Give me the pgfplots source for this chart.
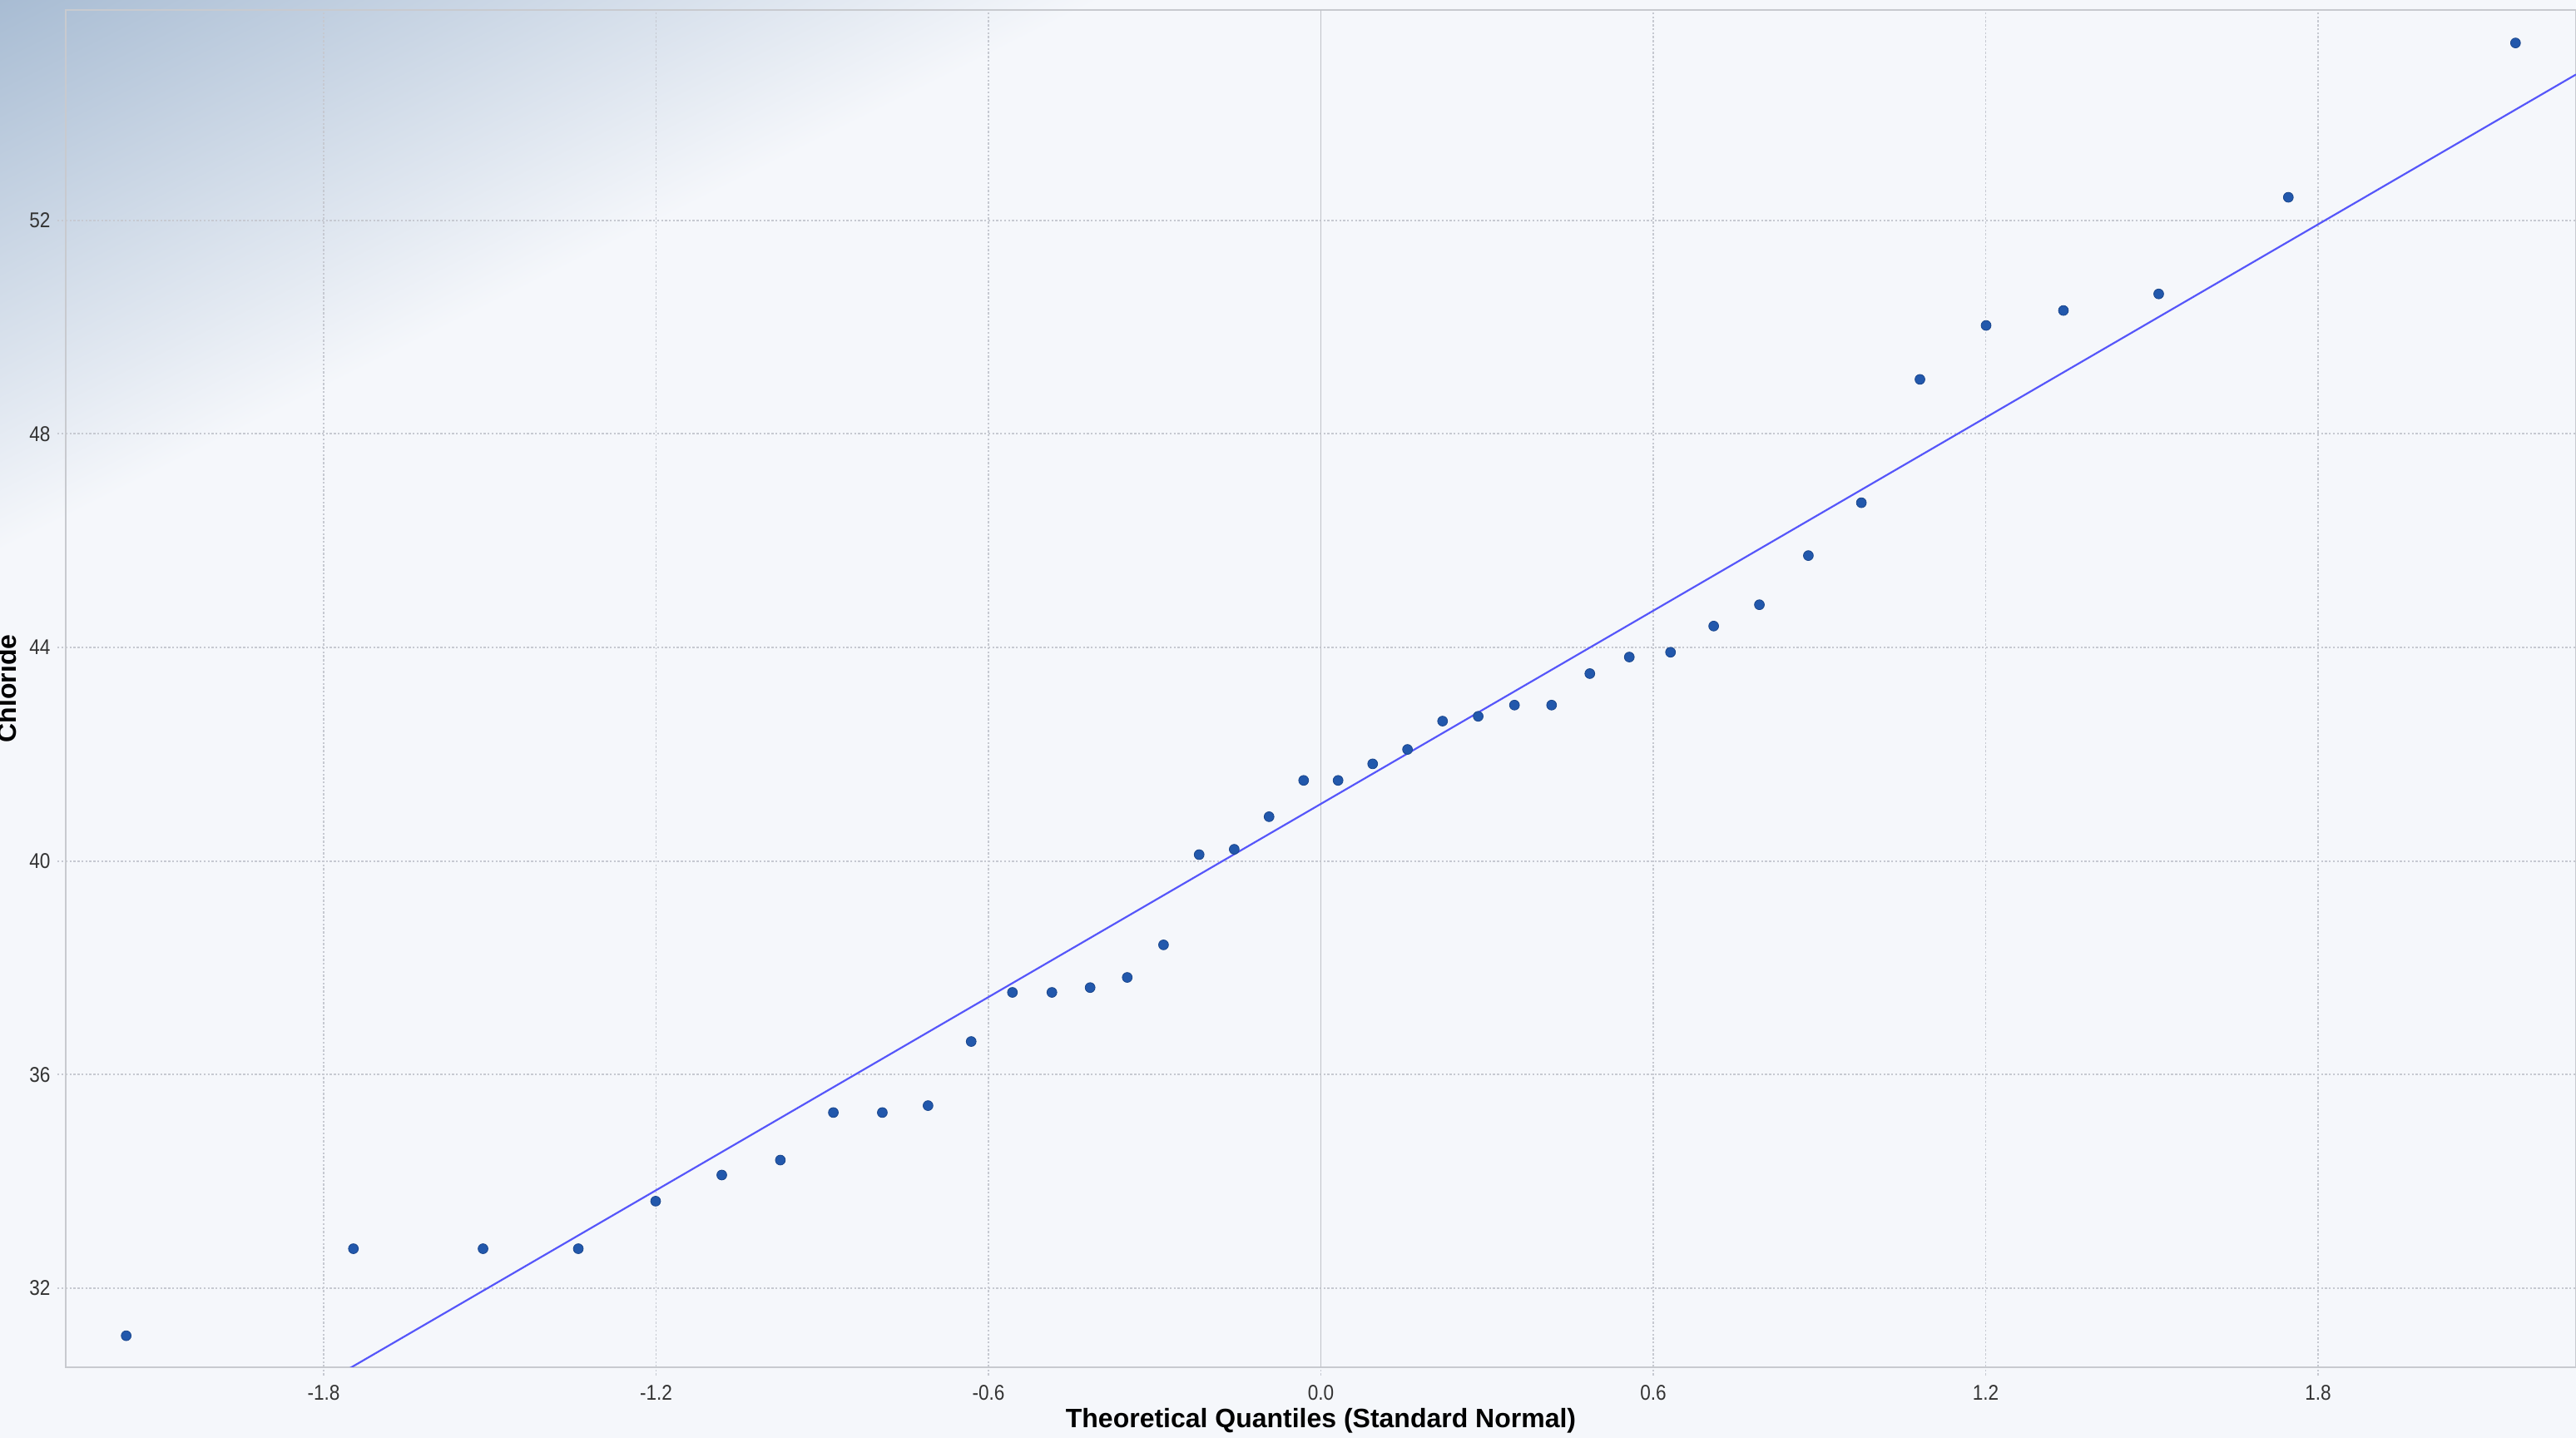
\documentclass[border=0pt]{standalone}
\usepackage{fontspec}
\setmainfont{Liberation Sans}
\newfontfamily\narrowfont{Liberation Sans}[FakeStretch=0.88]
\newfontfamily\labelfont{Liberation Sans}
\usepackage{pgfplots}
\pgfplotsset{compat=1.18}
\definecolor{bgcol}{HTML}{F5F7FB}
\definecolor{gradblue}{HTML}{A8BCD3}
\definecolor{gridcol}{HTML}{C6C9D1}
\definecolor{axcol}{HTML}{C8CACF}
\definecolor{zerocol}{HTML}{C0C2C8}
\definecolor{ptcol}{HTML}{2258AC}
\definecolor{ptedge}{HTML}{1A468C}
\definecolor{linecol}{HTML}{5656FA}
\definecolor{tickcol}{HTML}{333333}
\begin{document}
\begin{tikzpicture}
\fill[bgcol] (0,0) rectangle (784pt,437.5pt);
\begin{scope}
\clip (0,0) rectangle (784pt,437.5pt);
\begin{scope}[transform canvas={shift={(0pt,437.5pt)},rotate=-63.43}]
\shade[left color=gradblue, right color=bgcol] (0pt,-800pt) rectangle (150pt,800pt);
\end{scope}
\end{scope}
\begin{axis}[
  at={(20pt,21.5pt)}, anchor=south west,
  width=764pt, height=413pt, scale only axis,
  xmin=-2.2657, xmax=2.2657, ymin=30.523, ymax=55.94,
  xtick={-1.8,-1.2,-0.6,0,0.6,1.2,1.8},
  xticklabels={-1.8,-1.2,-0.6,0.0,0.6,1.2,1.8},
  ytick={32,36,40,44,48,52},
  xtick pos=bottom, ytick pos=left,
  tick align=outside,
  major tick length=2.5pt,
  every tick/.style={gridcol, dash pattern=on 0.6pt off 0.6pt, line width=0.45pt},
  grid=major,
  major grid style={gridcol, dash pattern=on 0.6pt off 0.6pt, line width=0.45pt},
  axis line style={axcol, line width=0.6pt},
  extra x ticks={0}, extra x tick labels={},
  extra x tick style={grid=major, major grid style={zerocol, solid, line width=0.5pt}},
  /pgf/number format/assume math mode=true,
  ticklabel style={font=\narrowfont\fontsize{6.5}{7}\selectfont, text=tickcol},
  xticklabel style={anchor=base, yshift=-7.5pt, inner sep=0pt},
  yticklabel style={anchor=east, xshift=-2pt, inner sep=0pt},
  xlabel={Theoretical Quantiles (Standard Normal)},
  ylabel={Chloride},
  every axis x label/.style={at={(axis description cs:0.5,0)}, anchor=base, yshift=-18.3pt, inner sep=0pt, font=\labelfont\bfseries\fontsize{8.1}{9}\selectfont},
  every axis y label/.style={at={(axis description cs:-0.0198,0.5)}, anchor=base, rotate=90, inner sep=0pt, font=\labelfont\bfseries\fontsize{8.1}{9}\selectfont},
  clip=true,
]
\addplot[linecol, line width=0.55pt] coordinates {(-2.2657,27.41) (2.2657,54.73)};
\addplot[only marks, mark=*, mark size=1.5pt, mark options={fill=ptcol, draw=ptedge, line width=0.2pt}] coordinates {
(-2.1565,31.11) (-1.7464,32.74) (-1.5124,32.74) (-1.3404,32.74) (-1.2008,33.63)
(-1.0814,34.12) (-0.9757,34.40) (-0.8800,35.29) (-0.7916,35.29) (-0.7091,35.42)
(-0.6312,36.62) (-0.5568,37.54) (-0.4855,37.54) (-0.4165,37.63) (-0.3495,37.82)
(-0.2840,38.43) (-0.2197,40.12) (-0.1564,40.22) (-0.0935,40.83) (-0.0311,41.51)
(0.0311,41.51) (0.0935,41.82) (0.1564,42.09) (0.2197,42.62) (0.2840,42.71)
(0.3495,42.92) (0.4165,42.92) (0.4855,43.51) (0.5568,43.82) (0.6312,43.91)
(0.7091,44.40) (0.7916,44.80) (0.8800,45.72) (0.9757,46.71) (1.0814,49.02)
(1.2008,50.03) (1.3404,50.31) (1.5124,50.62) (1.7464,52.43) (2.1565,55.32)
};
\end{axis}
\pgfresetboundingbox
\path[use as bounding box] (0,0) rectangle (784pt,437.5pt);
\end{tikzpicture}
\end{document}
